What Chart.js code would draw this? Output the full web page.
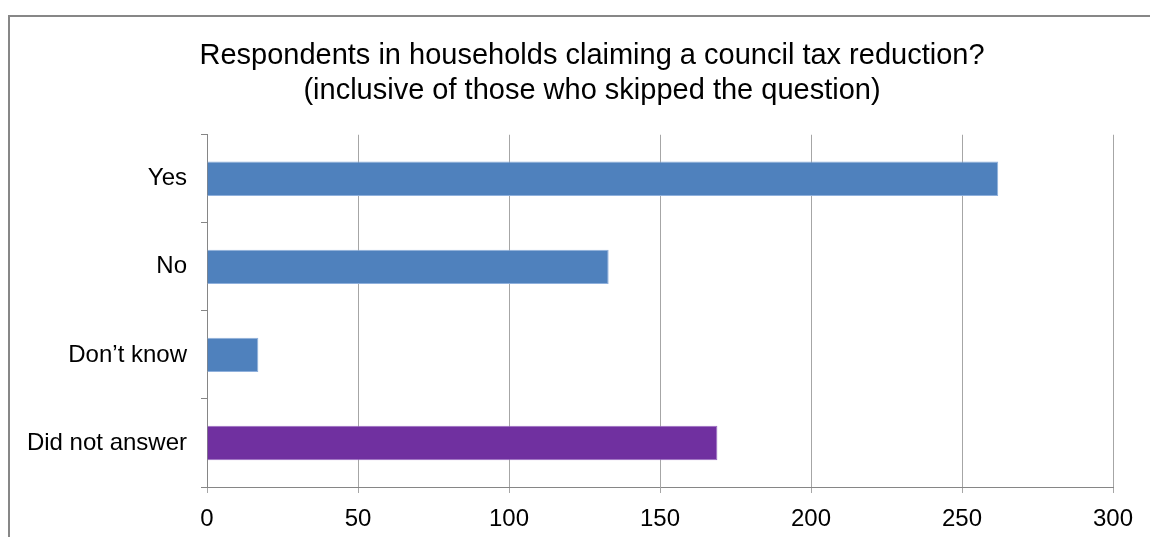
<!DOCTYPE html>
<html lang="en">

<head>
    <meta charset="UTF-8">
    <meta name="viewport" content="width=device-width, initial-scale=1.0">
    <title>Council tax reduction</title>
    <script src="https://cdn.jsdelivr.net/npm/chart.js"></script>
    <style>
        body { margin: 0; background: #fff; }
        #wrap { position: relative; width: 1150px; height: 537px; overflow: hidden; }
        #frame {
            position: absolute; left: 8px; top: 15px; width: 1160px; height: 560px;
            border: 2px solid #878787; box-sizing: border-box;
        }
        canvas { position: absolute; left: 0; top: 0; }
    </style>
</head>

<body>
    <div id="wrap">
        <div id="frame"></div>
        <canvas id="taxChart" width="1150" height="537"></canvas>
    </div>
    <script>
        const categories = ['Yes', 'No', 'Don\u2019t know', 'Did not answer'];
        const respondents = [262, 133, 17, 169];
        const barColours = ['#4f81bd', '#4f81bd', '#4f81bd', '#7030a0'];
        const edgeColours = ['#8fb0dc', '#8fb0dc', '#8fb0dc', '#9a6cc2'];
        const xTicks = [0, 50, 100, 150, 200, 250, 300];

        const font = "'Liberation Sans', Arial, sans-serif";

        // the title sits a little right of the canvas centre
        const titleShift = {
            id: 'titleShift',
            afterLayout(chart) {
                if (chart.titleBlock) {
                    chart.titleBlock.left = 71;
                    chart.titleBlock.right = 1113;
                }
            }
        };

        const config = {
            type: 'bar',
            data: {
                labels: categories,
                datasets: [{
                    data: respondents,
                    backgroundColor: barColours,
                    borderColor: edgeColours,
                    borderWidth: 1,
                    categoryPercentage: 1,
                    barPercentage: 0.39
                }]
            },
            options: {
                indexAxis: 'y',
                responsive: false,
                animation: false,
                layout: { padding: { left: 20, right: 37, top: 0, bottom: 0 } },
                plugins: {
                    legend: { display: false },
                    tooltip: { enabled: false },
                    title: {
                        display: true,
                        text: ['Respondents in households claiming a council tax reduction?',
                               '(inclusive of those who skipped the question)'],
                        color: '#000',
                        font: { family: font, size: 29, weight: 'normal', lineHeight: 1.22 },
                        padding: { top: 38, bottom: 26 }
                    }
                },
                scales: {
                    x: {
                        min: xTicks[0],
                        max: xTicks[xTicks.length - 1],
                        afterBuildTicks: (scale) => { scale.ticks = xTicks.map(v => ({ value: v })); },
                        afterFit: (scale) => { scale.height = 50; },
                        grid: { color: '#a6a6a6', lineWidth: 1, tickLength: 6, drawTicks: true },
                        border: { color: '#868686', width: 1 },
                        ticks: { color: '#000', padding: 12, font: { family: font, size: 24 } }
                    },
                    y: {
                        afterFit: (scale) => { scale.width = 187; },
                        grid: { drawOnChartArea: false, color: '#868686', tickLength: 6, offset: true },
                        border: { color: '#868686', width: 1 },
                        ticks: { color: '#000', padding: 14, font: { family: font, size: 24 } }
                    }
                }
            },
            plugins: [titleShift]
        };

        const ctx = document.querySelector('#taxChart').getContext('2d');
        const taxChart = new Chart(ctx, config);
    </script>
</body>

</html>
